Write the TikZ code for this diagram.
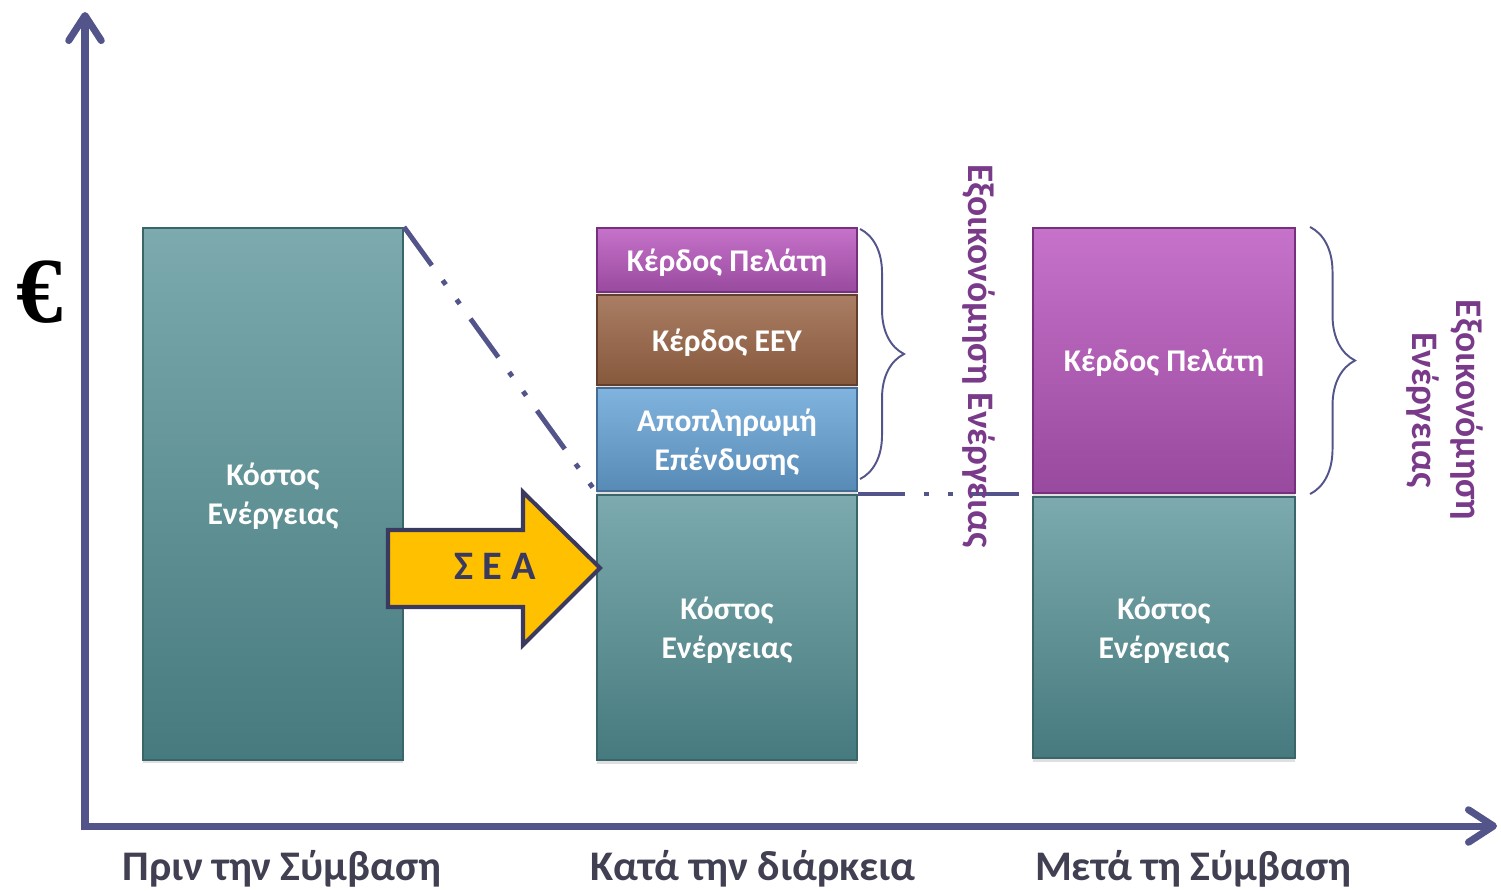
\documentclass[tikz,border=0pt]{standalone}
\usepackage{fontspec}
\setmainfont{Carlito}
\newfontfamily\eurofont{Liberation Serif}
\usepackage{tikz}
\usetikzlibrary{positioning,calc,shadows,decorations.pathreplacing,arrows.meta}

\definecolor{axiscol}{RGB}{83,84,138}
\definecolor{labelcol}{RGB}{64,64,82}
\definecolor{savecol}{RGB}{122,58,138}
\definecolor{seafill}{RGB}{255,192,0}
\definecolor{seadraw}{RGB}{58,58,96}
% bar colours: top / bottom / border
\definecolor{csttop}{RGB}{124,170,174}
\definecolor{cstbot}{RGB}{70,122,126}
\definecolor{cstdark}{RGB}{58,102,106}
\definecolor{kpltop}{RGB}{198,114,202}
\definecolor{kplbot}{RGB}{152,74,158}
\definecolor{kpldark}{RGB}{118,48,126}
\definecolor{eeytop}{RGB}{170,126,100}
\definecolor{eeybot}{RGB}{134,88,60}
\definecolor{eeydark}{RGB}{100,64,44}
\definecolor{apotop}{RGB}{128,180,222}
\definecolor{apobot}{RGB}{88,138,182}
\definecolor{apodark}{RGB}{68,108,148}

\tikzset{
  bar/.style={draw=#1dark, line width=1.2pt, top color=#1top, bottom color=#1bot,
    minimum width=5.2cm, inner sep=0pt, align=center, text=white, text depth=-2.5pt,
    font=\bfseries\fontsize{18}{22}\selectfont,
    drop shadow={opacity=.25, shadow xshift=0pt, shadow yshift=-2pt}},
  axis/.style={line width=4pt, color=axiscol, line join=miter,
    arrows={Straight Barb[length=5mm,width=6.5mm,round]-Straight Barb[length=5mm,width=6.5mm,round]}},
  dashdotdot/.style={line width=2.8pt, color=axiscol,
    dash pattern=on 27pt off 10.5pt on 3pt off 10.5pt on 3pt off 10.5pt},
  bracket/.style={decorate, line width=1.1pt, color=axiscol},
  savetext/.style={text=savecol, font=\bfseries\fontsize{21.3}{25}\selectfont, align=center},
  xlabel/.style={text=labelcol, font=\bfseries\fontsize{24}{28}\selectfont}
}

\begin{document}
\begin{tikzpicture}[x=0.02cm, y=-0.02cm]
    \useasboundingbox (0,0) rectangle (1501,890);

    % Axes
    \coordinate (orig) at (85,826);
    \coordinate (ytop) at (85,12);
    \coordinate (xend) at (1497,826);
    \draw [axis] (ytop) -- (orig) -- (xend);
    \node [font=\eurofont\bfseries\fontsize{53}{53}\selectfont] (euro) at (40,292) {€};

    % Before the contract
    \node [bar=cst, minimum height=10.64cm] (cost1) at (273,494) {Κόστος\\Ενέργειας};

    % During the contract
    \node [bar=kpl, minimum height=1.28cm] (kp2) at (727,260) {Κέρδος Πελάτη};
    \node [bar=eey, minimum height=1.8cm] (eey) at (727,340) {Κέρδος ΕΕΥ};
    \node [bar=apo, minimum height=2.06cm] (apo) at (727,439.5) {Αποπληρωμή\\Επένδυσης};
    \node [bar=cst, minimum height=5.3cm] (cost2) at (727,627.5) {Κόστος\\Ενέργειας};

    % After the contract
    \node [bar=kpl, minimum width=5.24cm, minimum height=5.3cm] (kp3) at (1164,360.5) {Κέρδος Πελάτη};
    \node [bar=cst, minimum width=5.24cm, minimum height=5.22cm] (cost3) at (1164,627.5) {Κόστος\\Ενέργειας};

    % Savings lines
    \draw [dashdotdot] (cost1.north east) -- (apo.south west);
    \draw [dashdotdot] (cost2.north east) -- (cost2.north east -| kp3.west);

    % Braces
    \draw [bracket, decoration={brace, amplitude=0.88cm}]
        ($(kp2.north east)+(2,2)$) -- ($(apo.south east)+(2,-13)$);
    \draw [bracket, decoration={brace, amplitude=0.9cm}]
        ($(kp3.north east)+(14,0)$) -- ($(kp3.south east)+(14,0)$);
    \node [savetext, rotate=-90] (save1) at (979,356) {Εξοικονόμηση Ενέργειας};
    \node [savetext, rotate=-90] (save2) at (1445,410) {Εξοικονόμηση\\Ενέργειας};

    % ESCO arrow
    \draw [line width=2.3pt, draw=seadraw, fill=seafill, line join=miter]
        (388,530) -- (523,530) -- (523,492) -- (600,568) -- (523,645) -- (523,607) -- (388,607) -- cycle;
    \node [text=seadraw, font=\bfseries\fontsize{23}{23}\selectfont] (sea) at (495,566) {Σ Ε Α};

    % Periods
    \node [xlabel] (before) at (282,869) {Πριν την Σύμβαση};
    \node [xlabel] (during) at (753,869) {Κατά την διάρκεια};
    \node [xlabel] (after) at (1193,869) {Μετά τη Σύμβαση};
\end{tikzpicture}
\end{document}
